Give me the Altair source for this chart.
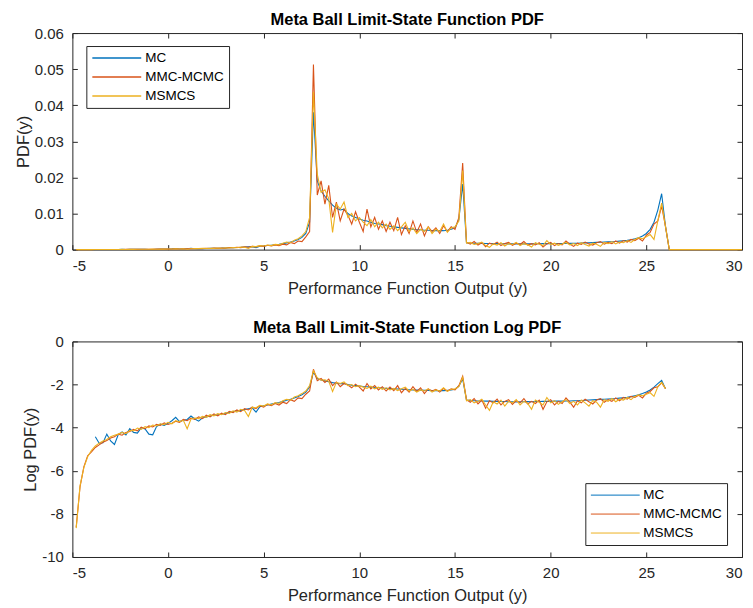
import altair as alt
import pandas as pd

# ---------------- data ----------------
series_names = ["MC", "MMC-MCMC", "MSMCS"]
series_colors = ["#0072BD", "#D95319", "#EDB120"]

# bin centres: x = x_start + x_step * i
x_start = -4.8
x_step = 0.2
n_bins_pdf = 175          # PDF panel runs on to x = 30 (density 0 after the last bin)

x_ticks = [-5, 0, 5, 10, 15, 20, 25, 30]
pdf_ticks = [0, 0.01, 0.02, 0.03, 0.04, 0.05, 0.06]
log_ticks = [-10, -8, -6, -4, -2, 0]

# log10 of the PDF for each bin (None = no samples in that bin)
log_mc = [
    None, None, None, None, None, -4.42, -4.72, -4.70, -4.30, -4.62,
    -4.78, -4.32, -4.20, -4.34, -4.05, -4.22, -4.25, -4.00, -4.06, -4.30,
    -4.33, -3.95, -3.84, -3.90, -3.80, -3.68, -3.52, -3.72, -3.66, -3.62,
    -3.46, -3.60, -3.70, -3.55, -3.50, -3.46, -3.42, -3.40, -3.38, -3.33,
    -3.30, -3.26, -3.22, -3.20, -3.16, -3.12, -3.08, -3.28, -3.03, -2.99,
    -2.95, -2.91, -2.87, -2.83, -2.78, -2.73, -2.68, -2.62, -2.55, -2.47,
    -2.35, -2.12, -1.42, -1.72, -1.79, -1.83, -1.87, -1.91, -1.94, -1.96,
    -1.95, -2.00, -2.03, -2.05, -2.07, -2.09, -2.10, -2.12, -2.14, -2.15,
    -2.16, -2.18, -2.19, -2.20, -2.21, -2.22, -2.23, -2.24, -2.25, -2.26,
    -2.26, -2.27, -2.27, -2.28, -2.28, -2.28, -2.28, -2.27, -2.25, -2.22,
    -2.08, -1.74, -2.72, -2.74, -2.75, -2.76, -2.76, -2.77, -2.77, -2.78,
    -2.78, -2.79, -2.79, -2.80, -2.80, -2.81, -2.80, -2.80, -2.79, -2.80,
    -2.79, -2.79, -2.78, -2.78, -2.78, -2.77, -2.77, -2.77, -2.76, -2.76,
    -2.75, -2.75, -2.74, -2.73, -2.72, -2.71, -2.70, -2.69, -2.68, -2.67,
    -2.66, -2.65, -2.63, -2.61, -2.59, -2.56, -2.52, -2.48, -2.42, -2.35,
    -2.25, -2.12, -1.96, -1.81, -2.19,
]
log_mmc = [
    -8.62, -6.75, -5.82, -5.30, -5.12, -4.92, -4.80, -4.68, -4.60, -4.48,
    -4.42, -4.30, -4.35, -4.22, -4.18, -4.08, -4.15, -3.98, -4.05, -3.92,
    -3.97, -3.85, -3.90, -3.78, -3.85, -3.80, -3.70, -3.76, -3.62, -3.68,
    -3.56, -3.62, -3.50, -3.58, -3.42, -3.50, -3.36, -3.45, -3.33, -3.40,
    -3.24, -3.30, -3.18, -3.26, -3.12, -3.18, -3.05, -3.12, -2.98, -3.05,
    -2.92, -2.98, -2.88, -2.95, -2.82, -2.88, -2.70, -2.78, -2.62, -2.65,
    -2.45, -2.30, -1.29, -1.82, -1.72, -1.90, -1.75, -2.05, -1.88, -2.10,
    -1.95, -2.02, -2.15, -1.98, -2.12, -2.30, -1.95, -2.20, -2.05, -2.25,
    -2.10, -2.30, -2.12, -2.28, -2.05, -2.38, -2.18, -2.35, -2.10, -2.32,
    -2.15, -2.42, -2.20, -2.30, -2.22, -2.35, -2.18, -2.30, -2.20, -2.25,
    -2.05, -1.62, -2.70, -2.82, -2.65, -2.90, -2.72, -3.10, -2.75, -2.85,
    -2.68, -2.95, -2.78, -2.70, -2.92, -2.75, -2.85, -2.65, -2.90, -2.78,
    -2.88, -2.72, -3.15, -2.80, -2.70, -2.95, -2.78, -2.88, -2.62, -2.82,
    -3.05, -2.75, -2.85, -2.68, -2.80, -2.90, -2.72, -2.65, -2.82, -2.70,
    -2.78, -2.62, -2.75, -2.60, -2.68, -2.55, -2.60, -2.50, -2.62, -2.40,
    -2.32, -2.15, -2.10, -1.92, -2.19,
]
log_msmcs = [
    -8.66, -6.70, -5.85, -5.35, -5.05, -4.85, -4.72, -4.62, -4.55, -4.42,
    -4.35, -4.30, -4.22, -4.28, -4.12, -4.15, -4.02, -4.08, -3.95, -4.00,
    -3.88, -3.92, -3.82, -3.86, -3.75, -3.82, -3.68, -3.72, -3.66, -4.05,
    -3.60, -3.55, -3.58, -3.48, -3.52, -3.40, -3.45, -3.35, -3.40, -3.30,
    -3.34, -3.22, -3.28, -3.15, -3.20, -3.48, -3.05, -3.08, -2.96, -3.00,
    -2.90, -2.95, -2.84, -2.88, -2.75, -2.68, -2.72, -2.58, -2.52, -2.42,
    -2.30, -2.05, -1.36, -1.68, -1.80, -1.78, -1.85, -2.32, -1.90, -1.95,
    -1.88, -2.05, -2.00, -2.10, -2.05, -2.12, -2.18, -2.08, -2.20, -2.12,
    -2.22, -2.15, -2.25, -2.18, -2.28, -2.20, -2.12, -2.30, -2.22, -2.35,
    -2.25, -2.30, -2.20, -2.35, -2.25, -2.30, -2.15, -2.32, -2.22, -2.20,
    -2.10, -1.66, -2.75, -2.70, -2.85, -2.78, -2.68, -2.95, -3.20, -2.80,
    -2.90, -2.72, -3.00, -2.78, -2.85, -2.70, -2.95, -2.78, -2.88, -3.15,
    -2.72, -2.82, -2.95, -2.60, -2.85, -2.75, -2.92, -2.80, -2.70, -2.88,
    -2.78, -2.95, -2.72, -2.85, -3.00, -2.75, -2.82, -3.05, -2.70, -2.78,
    -2.65, -2.80, -2.68, -2.72, -2.60, -2.70, -2.55, -2.48, -2.52, -2.45,
    -2.38, -2.55, -2.10, -1.89, -2.19,
]

# ---------------- tables ----------------
rows_pdf, rows_log = [], []
for name, vals in zip(series_names, [log_mc, log_mmc, log_msmcs]):
    for i in range(n_bins_pdf):
        x = round(x_start + x_step * i, 2)
        v = vals[i] if i < len(vals) else None
        rows_pdf.append({"x": x, "series": name, "pdf": 0.0 if v is None else 10 ** v})
        if v is not None:
            rows_log.append({"x": x, "series": name, "logpdf": v})
df_pdf = pd.DataFrame(rows_pdf)
df_log = pd.DataFrame(rows_log)

FONT = "Liberation Sans"
INK = "#262626"
W = 671

x_scale = alt.Scale(domain=[-5, 30], nice=False, zero=False)
color_scale = alt.Scale(domain=series_names, range=series_colors)
num_label = "'' + datum.value"


def panel(df, field, ydom, yvals, ytitle, title, legend, h):
    yscale = alt.Scale(domain=ydom, nice=False, zero=False)
    lines = alt.Chart(df).mark_line(strokeWidth=1.1).encode(
        x=alt.X("x:Q", scale=x_scale,
                axis=alt.Axis(values=x_ticks, orient="bottom", offset=-5, tickSize=5,
                              domain=False, labelPadding=9, labelExpr=num_label,
                              title="Performance Function Output (y)", titlePadding=6.5)),
        y=alt.Y(f"{field}:Q", scale=yscale,
                axis=alt.Axis(values=yvals, orient="left", offset=-5, tickSize=5,
                              domain=False, labelPadding=9, labelExpr=num_label,
                              title=ytitle, titlePadding=3)),
        color=alt.Color("series:N", scale=color_scale, legend=legend),
    )
    frame = alt.Chart(df).mark_line(opacity=0).encode(
        x=alt.X("x:Q", scale=x_scale,
                axis=alt.Axis(values=x_ticks, orient="top", offset=-5, tickSize=5,
                              domain=False, labels=False, title=None)),
        y=alt.Y(f"{field}:Q", scale=yscale,
                axis=alt.Axis(values=yvals, orient="right", offset=-5, tickSize=5,
                              domain=False, labels=False, title=None)),
    )
    return alt.layer(lines, frame).resolve_axis(x="independent", y="independent").properties(
        width=W, height=h,
        title=alt.TitleParams(title, fontSize=16.5, fontWeight="bold", font=FONT,
                              color="black", offset=-2.5, anchor="middle"),
    )


def make_legend(lx, ly, sw):
    return alt.Legend(orient="none", legendX=lx, legendY=ly, title=None,
                      symbolType="stroke", symbolSize=2400, symbolStrokeWidth=sw,
                      labelFontSize=13.5, labelFont=FONT, labelColor="black",
                      labelOffset=3, labelLimit=300, strokeColor=INK, fillColor="white",
                      padding=5, rowPadding=5, clipHeight=14)


top = panel(df_pdf, "pdf", [0, 0.06], pdf_ticks, "PDF(y)",
            "Meta Ball Limit-State Function PDF", make_legend(14, 13, 1.6), 217)
bottom = panel(df_log, "logpdf", [-10, 0], log_ticks, "Log PDF(y)",
               "Meta Ball Limit-State Function Log PDF", make_legend(514, 142, 1.0), 216)

chart = alt.vconcat(top, bottom, spacing=22).resolve_scale(color="independent").resolve_legend(
    color="independent"
).properties(padding={"left": 6.5, "top": 2.5, "right": 0, "bottom": 0}).configure_view(
    stroke=INK, strokeWidth=1
).configure_axis(
    grid=False, labelFont=FONT, titleFont=FONT, labelFontSize=15, titleFontSize=16.5,
    labelColor=INK, titleColor=INK, tickColor=INK, titleFontWeight="normal",
)

chart.save("out.html", embed_options={"renderer": "svg", "actions": False})
